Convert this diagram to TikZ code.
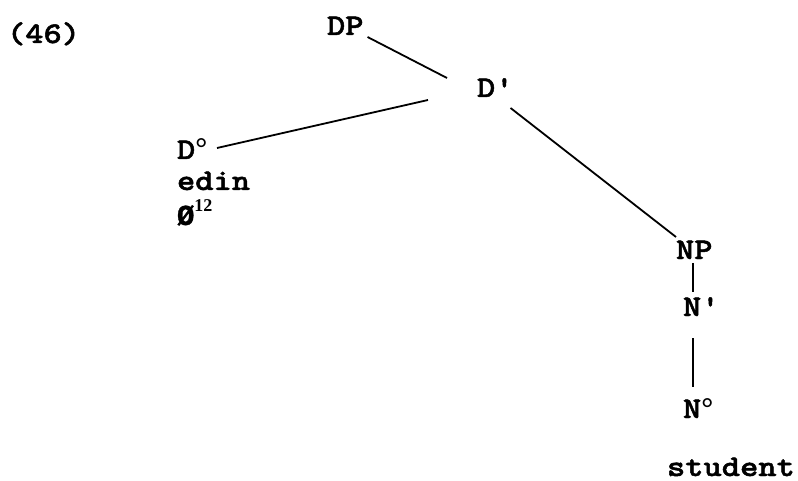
\documentclass[tikz,border=0pt]{standalone}
\usepackage{fontspec}
\setmonofont{Latin Modern Mono Light}[FakeStretch=1.16, BoldFeatures={FakeBold=1.6}]
\newfontfamily\serifsup{Liberation Serif}
\newfontfamily\libmono{Liberation Mono}[BoldFeatures={FakeBold=1}]
\usetikzlibrary{calc}
\newcommand{\dg}{{\serifsup\fontsize{30}{30}\selectfont °}}
\newcommand{\supnum}[1]{\raisebox{13pt}{\serifsup\fontsize{18}{18}\selectfont #1}}
\newcommand{\nullsym}{{\libmono\bfseries\fontsize{29}{29}\selectfont Ø}}
\tikzset{
  lab/.style={inner sep=0pt, outer sep=0pt, anchor=base west, font=\ttfamily\fontsize{30}{30}\selectfont\bfseries},
  br/.style={line width=1.8pt, black}
}
\begin{document}
\begin{tikzpicture}[x=1pt,y=-1pt]
\useasboundingbox (0,0) rectangle (798,481);
\node[lab] (num) at (7,43) {(46)};
\node[lab] (DP) at (327,35) {DP};
\node[lab] (Dbar) at (477,97) {D'};
\node[lab] (D0) at (177,159) {D\dg};
\node[lab] (edin) at (177,190) {edin};
\node[lab] (null) at (177,225) {\nullsym\supnum{12}};
\node[lab] (NP) at (676,259) {NP};
\node[lab] (Nbar) at (683,316) {N'};
\node[lab] (N0) at (683,418) {N\dg};
\node[lab] (student) at (667,476) {student};
\draw[br] ($(DP.base east)+(4,2)$) -- ($(Dbar.base west)+(-30,-19)$);
\draw[br] ($(Dbar.base west)+(-49,3)$) -- ($(D0.base west)+(40,-11)$);
\draw[br] ($(Dbar.base east)+(-3,11)$) -- ($(NP.base west)+(0,-22)$);
\draw[br] ($(NP.base west)+(17,4)$) -- ($(Nbar.base west)+(10,-24)$);
\draw[br] ($(Nbar.base west)+(10,22)$) -- ($(N0.base west)+(10,-31)$);
\end{tikzpicture}
\end{document}
